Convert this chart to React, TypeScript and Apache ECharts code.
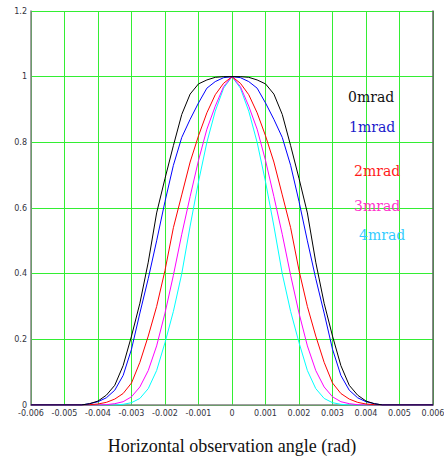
import React, { useEffect, useRef } from "react";
import * as echarts from "echarts";

const angles = [
  -0.006, -0.0045, -0.00425, -0.004, -0.00375, -0.0035, -0.00325, -0.003, -0.00275, -0.0025,
  -0.00225, -0.002, -0.00175, -0.0015, -0.00125, -0.001, -0.00075, -0.0005, -0.00025, 0,
  0.00025, 0.0005, 0.00075, 0.001, 0.00125, 0.0015, 0.00175, 0.002, 0.00225, 0.0025,
  0.00275, 0.003, 0.00325, 0.0035, 0.00375, 0.004, 0.00425, 0.0045, 0.006,
];

const mrad0 = [
  0, 0, 0.004, 0.012, 0.03, 0.06, 0.12, 0.21, 0.31, 0.435,
  0.585, 0.69, 0.79, 0.885, 0.947, 0.978, 0.99, 0.998, 1.0, 1.0,
  1.0, 0.998, 0.99, 0.978, 0.947, 0.885, 0.79, 0.69, 0.585, 0.435,
  0.31, 0.21, 0.12, 0.06, 0.03, 0.012, 0.004, 0, 0,
];
const mrad1 = [
  0, 0, 0.004, 0.01, 0.022, 0.045, 0.09, 0.17, 0.28, 0.385,
  0.5, 0.62, 0.73, 0.815, 0.87, 0.92, 0.965, 0.985, 0.997, 1.0,
  0.997, 0.985, 0.965, 0.92, 0.87, 0.815, 0.73, 0.62, 0.5, 0.385,
  0.28, 0.17, 0.09, 0.045, 0.022, 0.01, 0.004, 0, 0,
];
const mrad2 = [
  0, 0, 0.001, 0.003, 0.008, 0.018, 0.035, 0.067, 0.13, 0.21,
  0.3, 0.41, 0.54, 0.64, 0.74, 0.82, 0.89, 0.945, 0.98, 1.0,
  0.98, 0.945, 0.89, 0.82, 0.74, 0.64, 0.54, 0.41, 0.3, 0.21,
  0.13, 0.067, 0.035, 0.018, 0.008, 0.003, 0.001, 0, 0,
];
const mrad3 = [
  0, 0, 0, 0, 0.001, 0.004, 0.01, 0.025, 0.055, 0.105,
  0.18, 0.28, 0.395, 0.52, 0.635, 0.745, 0.84, 0.91, 0.97, 1.0,
  0.97, 0.91, 0.84, 0.745, 0.635, 0.52, 0.395, 0.28, 0.18, 0.105,
  0.055, 0.025, 0.01, 0.004, 0.001, 0, 0, 0, 0,
];
const mrad4 = [
  0, 0, 0, 0, 0, 0, 0.002, 0.007, 0.02, 0.05,
  0.105, 0.19, 0.285, 0.4, 0.545, 0.68, 0.8, 0.895, 0.965, 1.0,
  0.965, 0.895, 0.8, 0.68, 0.545, 0.4, 0.285, 0.19, 0.105, 0.05,
  0.02, 0.007, 0.002, 0, 0, 0, 0, 0, 0,
];

const seriesNames = ["0mrad", "1mrad", "2mrad", "3mrad", "4mrad"];
const seriesValues = [mrad0, mrad1, mrad2, mrad3, mrad4];
const lineColors = ["#000000", "#0000ff", "#ff0000", "#ff00ff", "#00ffff"];
const labelColors = ["#111111", "#1a1acc", "#ff1a1a", "#ff33cc", "#33ccff"];
const labelPos = [
  [348, 97],
  [349, 127],
  [354, 171],
  [354, 206],
  [359, 235],
];

export default function App() {
  const ref = useRef<HTMLDivElement>(null);
  useEffect(() => {
    if (!ref.current) return;
    const chart = echarts.init(ref.current, null, { renderer: "svg" });
    const tickFont = { fontFamily: "DejaVu Sans", fontSize: 8, color: "#333340" };
    chart.setOption({
      animation: false,
      backgroundColor: "#ffffff",
      grid: {
        left: 31,
        right: 11,
        top: 11,
        bottom: 51,
        containLabel: false,
        outerBoundsMode: "none",
      },
      xAxis: {
        type: "value",
        min: -0.006,
        max: 0.006,
        interval: 0.001,
        name: "Horizontal observation angle (rad)",
        nameLocation: "middle",
        nameGap: 32,
        nameTextStyle: { fontFamily: "Liberation Serif", fontSize: 18, color: "#111111" },
        axisLine: { show: true, onZero: false, lineStyle: { color: "#808080", width: 1.5 } },
        axisTick: { show: false },
        axisLabel: { ...tickFont, margin: 4 },
        splitLine: { show: true, lineStyle: { color: "#33ee33", width: 1 } },
      },
      yAxis: [
        {
          type: "value",
          min: 0,
          max: 1.2,
          interval: 0.2,
          axisLine: { show: true, onZero: false, lineStyle: { color: "#808080", width: 1.5 } },
          axisTick: { show: false },
          axisLabel: { ...tickFont, margin: 4 },
          splitLine: { show: true, lineStyle: { color: "#33ee33", width: 1 } },
        },
        {
          type: "value",
          position: "right",
          min: 0,
          max: 1.2,
          interval: 0.2,
          axisLine: { show: true, onZero: false, lineStyle: { color: "#606060", width: 1.5 } },
          axisTick: { show: false },
          axisLabel: { show: false },
          splitLine: { show: false },
        },
      ],
      series: seriesNames.map((name, i) => ({
        name,
        type: "line",
        yAxisIndex: 0,
        data: angles.map((a, k) => [a, seriesValues[i][k]]),
        smooth: false,
        showSymbol: false,
        lineStyle: { color: lineColors[i], width: 1 },
        itemStyle: { color: lineColors[i] },
        z: 10 - i,
      })),
      graphic: seriesNames.map((name, i) => ({
        type: "text",
        x: labelPos[i][0],
        y: labelPos[i][1],
        style: {
          text: name,
          fill: labelColors[i],
          font: "14px 'DejaVu Serif'",
          textVerticalAlign: "middle",
        },
        z: 100,
      })),
    });
    return () => chart.dispose();
  }, []);
  return (
    <div
      ref={ref}
      style={{ position: "absolute", left: 0, top: 0, width: 444, height: 456 }}
    />
  );
}
